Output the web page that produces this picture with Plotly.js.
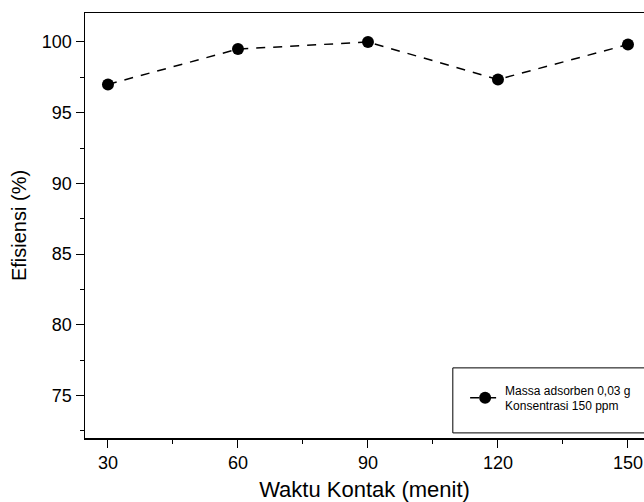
<!DOCTYPE html>
<html><head><meta charset="utf-8">
<script src="https://cdn.plot.ly/plotly-3.0.1.min.js"></script>
<style>html,body{margin:0;padding:0;background:#fff}#c{width:644px;height:502px}</style>
</head><body><div id="c"></div>
<script>
const waktu = [30, 60, 90, 120, 150];
const efisiensi = [97.0, 99.5, 100.0, 97.35, 99.82];
const seriesName = 'Massa adsorben 0,03 g<br>Konsentrasi 150 ppm';
const xTicks = [30, 60, 90, 120, 150];
const yTicks = [75, 80, 85, 90, 95, 100];

const font = 'Liberation Sans, Arial, sans-serif';
Plotly.newPlot('c', [{
  x: waktu, y: efisiensi, name: seriesName, type: 'scatter', mode: 'lines+markers',
  line: {color: '#000', width: 1.5, dash: '9px,8px'},
  marker: {color: '#000', size: 12, symbol: 'circle'},
  showlegend: true
}], {
  width: 644, height: 502,
  margin: {l: 85, r: 0, t: 13, b: 64},
  paper_bgcolor: '#fff', plot_bgcolor: '#fff',
  font: {family: font, color: '#000'},
  xaxis: {
    range: [24.7, 153.7], tickvals: xTicks, ticktext: xTicks.map(String),
    ticks: 'outside', ticklen: 8, tickwidth: 1, tickcolor: '#000',
    showline: true, linecolor: '#000', linewidth: 1.5, mirror: true,
    showgrid: false, zeroline: false, automargin: false,
    tickfont: {size: 18, family: font},
    minor: {tickvals: [45, 75, 105, 135], ticks: 'outside', ticklen: 4, tickcolor: '#000', showgrid: false},
    title: {text: 'Waktu Kontak (menit)', font: {size: 22, family: font}, standoff: 12}
  },
  yaxis: {
    range: [72.0, 102.05], tickvals: yTicks, ticktext: yTicks.map(String),
    ticks: 'outside', ticklen: 8, tickwidth: 1, tickcolor: '#000',
    showline: true, linecolor: '#000', linewidth: 1.5, mirror: false,
    showgrid: false, zeroline: false, automargin: false,
    tickfont: {size: 18, family: font},
    minor: {tickvals: [72.5, 77.5, 82.5, 87.5, 92.5, 97.5], ticks: 'outside', ticklen: 4, tickcolor: '#000', showgrid: false},
    title: {text: 'Efisiensi (%)', font: {size: 20, family: font}, standoff: 10}
  },
  shapes: [{
    type: 'rect', xref: 'paper', yref: 'paper',
    x0: 0.658, x1: 1.02, y0: 0.012, y1: 0.165,
    line: {color: '#000', width: 1}, fillcolor: 'rgba(0,0,0,0)', layer: 'above'
  }],
  showlegend: true,
  legend: {
    x: 0.68, y: 0.094, xanchor: 'left', yanchor: 'middle',
    bgcolor: 'rgba(0,0,0,0)', borderwidth: 0,
    font: {size: 12, family: font}
  }
}, {displayModeBar: false, staticPlot: true});
</script></body></html>
